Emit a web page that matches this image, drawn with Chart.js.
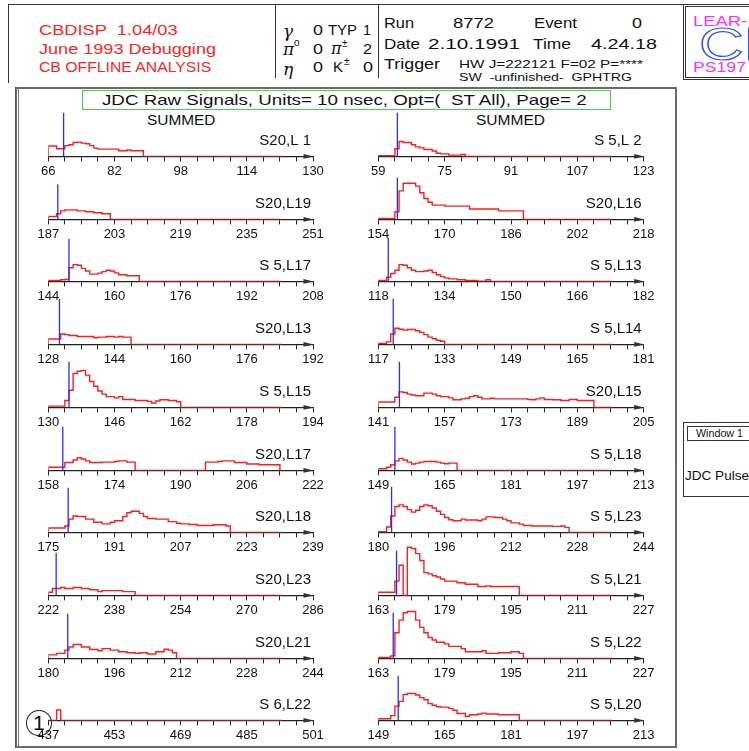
<!DOCTYPE html>
<html>
<head>
<meta charset="utf-8">
<script src="https://cdn.jsdelivr.net/npm/chart.js@4.4.0/dist/chart.umd.min.js"></script>
<style>
  body { margin: 0; background: #fff; width: 749px; height: 751px; overflow: hidden; position: relative; }
  .t { position: absolute; white-space: pre; line-height: 1; }
  .box { position: absolute; box-sizing: border-box; }
  canvas { position: absolute; }
</style>
</head>
<body>
<script>
// panel labels, left column top to bottom, then right column
const panelNames = ['S20,L 1', 'S20,L19', 'S 5,L17', 'S20,L13', 'S 5,L15', 'S20,L17', 'S20,L18', 'S20,L23', 'S20,L21', 'S 6,L22',
                    'S 5,L 2', 'S20,L16', 'S 5,L13', 'S 5,L14', 'S20,L15', 'S 5,L18', 'S 5,L23', 'S 5,L21', 'S 5,L22', 'S 5,L20'];
// first tick of each time axis (units of 10 nsec)
const axisStarts = [66, 187, 144, 128, 130, 158, 175, 222, 180, 437,
                    59, 154, 118, 117, 141, 149, 180, 163, 163, 149];
// blue trigger marker position and height, null = none
const triggerAt = [69.7, 189.3, 149, 130.7, 135, 161.5, 179.8, 223.9, 184.7, null,
                   63.6, 158.6, 120.4, 120.6, 146.1, 153, 183.2, 167.4, 166.6, 153.8];
const triggerHeight = [46, 37, 45, 48, 48, 46, 47, 45, 47, 0,
                       46, 44, 46, 48, 48, 46, 48, 47, 48, 47];

// raw pulse height per time bin, starting at the axis start
const s20L1 = [11, 11, 8, 8, 11.3, 12.3, 14.7, 15, 14, 13.3, 11.3, 8.7, 7.7, 7.7, 7.7, 7.7, 7.7, 6, 6, 6.7, 6, 6, 6];
const s20L19 = [3, 3, 6, 9, 10, 10, 10, 9, 9, 8, 8, 7, 7, 6, 6];
const s5L17 = [1, 1, 1, 1.7, 2, 14.3, 17.7, 17, 13.7, 11, 7.7, 7.7, 8.7, 10.3, 11.7, 11, 9, 7, 7, 6, 6, 6];
const s20L13 = [5.7, 5.7, 5.7, 11, 10.3, 9.3, 9.3, 8.3, 8.3, 8.3, 8.3, 7, 7.7, 7.7, 8.3, 8.3, 7.7, 8.3, 7.7, 7.7];
const s5L15 = [1.3, 1.3, 1.3, 1.3, 7.3, 18, 35.7, 38, 39, 34, 27.3, 22.3, 17.3, 14, 11.3, 11.3, 10, 11.3, 8.3, 8.3,
               8.3, 7.3, 7.3, 7.3, 6.3, 4.7, 6.7, 8, 8, 7.3, 7.3, 6];
const s20L17 = [3.3, 3.3, 3.3, 3.3, 8.3, 8.3, 11, 13.3, 12, 10, 8.3, 8.3, 8.3, 8.7, 8.7, 8.7, 9.3, 10, 10, 8.7, 8.7,
                0, 0, 0, 0, 0, 0, 0, 0, 0, 0, 0, 0, 0, 0, 0, 0, 0,
                8.7, 8.7, 8.7, 9.3, 10, 10, 10, 8.3, 8.3, 8.3, 6.7, 6.7, 6.7, 6, 6, 6, 6, 6];
const s20L18 = [4.7, 4.7, 4.7, 4.7, 6.7, 14, 17.3, 16.7, 16.7, 14, 14, 10.7, 10.7, 9, 9, 10.7, 12.3, 12.3, 16.7, 20.7,
                22.3, 22.3, 20, 16.7, 14.7, 14.7, 14, 14, 14, 11.3, 11.3, 9.7, 9, 9, 8.3, 8.3, 7.3, 7.3, 7.3, 7.3, 8, 8, 8, 6.7];
const s20L23 = [3.3, 7.3, 7.3, 8.3, 7.3, 7.3, 8.3, 8.3, 7.3, 7.3, 6, 6, 4, 5, 5, 5, 5, 5, 4, 4, 4];
const s20L21 = [3.7, 3.7, 5.3, 5.3, 8.7, 12, 14.7, 14.7, 12, 12, 9.3, 9.3, 8, 10.3, 10.3, 8.7, 8.7, 7, 7, 6, 6, 5.3,
                6, 6, 4.7, 4.7, 7, 7, 9.7, 8.7, 6];
const s6L22 = [0, 0, 11];
const s5L2 = [0.7, 0.7, 0.7, 0.7, 8, 15.7, 14.7, 14.7, 12.3, 10, 9, 7.3, 7.3, 5.7, 3.3, 2.7, 2.7, 1.3, 1.3, 1.3, 2];
const s20L16 = [1, 1, 1, 1, 8, 30, 38, 38, 38, 35, 28, 22, 18, 15, 15, 15, 14, 14, 14, 14, 14, 14,
                11, 11, 11, 11, 11, 11, 11, 9, 9, 9, 9, 9, 9];
const s5L13 = [1, 1, 4.3, 8.3, 11.7, 17.7, 17, 14.3, 11.7, 10.3, 10.3, 11, 11.7, 9.3, 7, 5, 3.7, 2.7, 2.7, 1.7, 1.7,
               1, 1, 1, 0.3, 0.3, 1.7];
const s5L14 = [1, 1, 2.7, 11, 17, 16, 15, 15.7, 15.7, 14.3, 12.7, 10.3, 7.7, 6, 4.3, 3.3];
const s20L15 = [5.7, 5.7, 5.7, 5.7, 10.7, 16.3, 15.7, 14, 13, 12.3, 12.3, 15, 15, 14, 12.3, 11.3, 11.3, 10, 8, 8,
                9, 9.7, 11.3, 12.3, 10.7, 9, 9, 9.7, 9, 9, 9, 9, 9, 9, 9, 9, 8.3, 8, 9, 10, 8.3, 8.3, 8, 8, 7.3, 7.3,
                8.3, 8.3, 7.3, 7.3, 7.3, 7.3];
const s5L18 = [1.7, 1.7, 3.3, 6, 10, 12.7, 11, 8.7, 6.7, 7.7, 8.7, 9.3, 9.3, 9.3, 8.7, 7.7, 7, 7.7, 7.7];
const s5L23 = [0.7, 0.7, 5.7, 17.3, 27.3, 29, 27.3, 24, 21.3, 23.3, 27.3, 29, 28, 25.7, 22.3, 19, 15.7, 13.3, 12.3,
               12.3, 14, 13, 13, 13, 12.3, 14, 16.3, 16.3, 15.7, 15.7, 14, 12.3, 10, 10, 8.7, 7.3, 7.3, 6.7, 6.7,
               6.7, 6.7, 6.7, 6.3, 6.3, 6.7, 5.3];
const s5L21 = [3.3, 3.3, 3.3, 3.3, 15, 31.7, 0, 50.7, 49.3, 44, 36.7, 24, 22.7, 20.7, 19.3, 17.3, 15, 15, 15, 13.3,
               13.3, 11.7, 11.7, 11.7, 9.3, 9.3, 10, 9.3, 9.3, 9.3, 9.3, 9.3, 9.3, 9.3];
const s5L22 = [1, 1, 1, 2.7, 27, 40.3, 48, 49.3, 49.3, 40.3, 32.7, 27, 22, 19.3, 17, 17, 15.3, 12.7, 12.7, 12.7,
               10.3, 7, 7, 7, 7, 8, 5.3, 5.3, 5.3, 6, 6, 6, 7, 7, 5.3];
const s5L20 = [1.7, 1.7, 1.7, 5, 15, 20, 27.3, 28.3, 28.3, 26.7, 24, 21.7, 17.7, 16, 14.3, 14, 14, 12.7, 10.7, 7.3,
               7.3, 4.3, 6, 6, 6.7, 7.7, 6.7, 6.7, 6.7, 6, 6, 6, 6, 6];

const panelCounts = [s20L1, s20L19, s5L17, s20L13, s5L15, s20L17, s20L18, s20L23, s20L21, s6L22,
                     s5L2, s20L16, s5L13, s5L14, s20L15, s5L18, s5L23, s5L21, s5L22, s5L20];

const FONT = '"Liberation Sans", Arial, sans-serif';
const SERIF = '"DejaVu Serif", "Liberation Serif", serif';
Chart.defaults.font.family = FONT;

const mctx = document.createElement('canvas').getContext('2d');

// absolutely placed text, optionally squeezed/stretched to a width
function put(s, x, yc, size, color, w, opt = {}) {
  const fam = opt.family || FONT;
  const style = opt.style || 'normal';
  const el = document.createElement('div');
  el.className = 't';
  el.textContent = s;
  el.style.font = `${style} ${size}px ${fam}`;
  el.style.lineHeight = '1';
  el.style.color = color;
  el.style.left = x + 'px';
  el.style.top = (yc - 0.49 * size) + 'px';
  if (opt.stroke) {
    el.style.color = 'transparent';
    el.style.webkitTextStroke = '1.2px ' + opt.stroke;
  }
  if (w) {
    mctx.font = `${style} ${size}px ${fam}`;
    const m = mctx.measureText(s).width;
    el.style.transformOrigin = '0 0';
    el.style.transform = `scaleX(${w / m})`;
  }
  document.body.appendChild(el);
}

function box(x, y, w, h, css) {
  const el = document.createElement('div');
  el.className = 'box';
  el.style.left = x + 'px';
  el.style.top = y + 'px';
  el.style.width = w + 'px';
  el.style.height = h + 'px';
  el.style.cssText += css;
  document.body.appendChild(el);
  return el;
}

// ---- header frame
box(8, 4, 675, 1, 'background:#333;');
box(8, 4, 1.3, 79, 'background:#333;');
box(275, 4, 1.3, 74, 'background:#333;');
box(378, 4, 1.3, 74, 'background:#333;');

const RED = '#ff2424';
put('CBDISP  1.04/03', 39, 29.5, 15.5, RED, 139);
put('June 1993 Debugging', 39, 48.5, 15.5, RED, 177);
put('CB OFFLINE ANALYSIS', 39, 66.2, 15.5, RED, 173);

// particle counts
const INK = '#111';
put('\u03b3', 283, 31, 17, INK, null, {family: SERIF, style: 'italic'});
put('0', 313, 29, 15, INK, 10);
put('TYP', 328, 29, 15, INK, 29);
put('1', 363, 29, 15, INK, 8);
put('\u03c0', 283, 49, 17, INK, null, {family: SERIF, style: 'italic'});
put('o', 294, 43, 10, INK);
put('0', 313, 48.3, 15, INK, 10);
put('\u03c0', 331, 49, 16, INK, null, {family: SERIF, style: 'italic'});
put('\u00b1', 342, 44, 10, INK);
put('2', 363, 48.3, 15, INK, 9);
put('\u03b7', 283, 69, 17, INK, null, {family: SERIF, style: 'italic'});
put('0', 313, 66.7, 15, INK, 10);
put('K', 333, 66.7, 15, INK, 10);
put('\u00b1', 344, 62, 10, INK);
put('0', 363, 66.7, 15, INK, 10);

// run info
put('Run', 384, 22, 15, INK, 30);
put('8772', 453, 22, 15, INK, 41);
put('Event', 534, 22, 15, INK, 43);
put('0', 632, 22, 15, INK, 10);
put('Date', 384, 43, 15, INK, 36);
put('2.10.1991', 428, 43, 15, INK, 92);
put('Time', 533, 43, 15, INK, 38);
put('4.24.18', 591, 43, 15, INK, 66);
put('Trigger', 384, 63.3, 15, INK, 56);
put('HW J=222121 F=02 P=****', 459, 64.5, 11, INK, 184);
put('SW  -unfinished-  GPHTRG', 459, 77.5, 11, INK, 173);

// logo
box(683, 4, 80, 75.5, 'border:3px double #333;');
put('LEAR-', 693, 20.5, 15, '#ff30ff', 54);
put('CB', 699, 43.5, 46, '#3050ff', 86, {stroke: '#3050ff'});
put('PS197', 693, 66, 15, '#ff30ff', 53);

// window widget
box(683, 421.7, 80, 75, 'border:1.3px solid #333;');
box(686.7, 426, 80, 15, 'border:1.2px solid #333;');
put('Window 1', 696, 433.5, 10.5, INK, 47);
put('JDC Pulse', 685, 475, 13, INK, 64);

// main frame, title, column heads
box(15, 87, 662, 661, 'border:2px solid #6a6a6a;');
box(14.5, 87, 4, 661, 'border-left:1.5px solid #555;border-right:1.5px solid #777;');
box(81.5, 89.5, 529, 20, 'border:1.6px solid #3ddc3d;');
put('JDC Raw Signals, Units= 10 nsec, Opt=(  ST All), Page= 2', 102, 99.7, 15, INK, 486);
put('SUMMED', 146.5, 119.7, 15.3, INK, 68.5);
put('SUMMED', 476, 119.7, 15.3, INK, 69);

// page number circle
box(25.5, 709.5, 26, 26.5, 'border:1.2px solid #222;border-radius:50%;');
put('1', 33, 722, 21, INK, null);

// ---- charts
const arrowAndLabel = {
  id: 'arrowAndLabel',
  afterDraw(chart, args, opts) {
    const {ctx, chartArea} = chart;
    const xs = chart.scales.x;
    const y = chartArea.bottom;
    const tip = xs.getPixelForValue(xs.max) + 0.5;
    ctx.save();
    ctx.fillStyle = '#333';
    ctx.beginPath();
    ctx.moveTo(tip, y);
    ctx.lineTo(tip - 10, y - 2.3);
    ctx.lineTo(tip - 10, y + 2.3);
    ctx.closePath();
    ctx.fill();
    ctx.font = '15px ' + FONT;
    ctx.fillStyle = INK;
    ctx.textAlign = 'right';
    ctx.textBaseline = 'middle';
    ctx.fillText(opts.name, chartArea.right - 2, y - 16);
    ctx.restore();
  }
};

function panel(idx) {
  const col = idx < 10 ? 0 : 1;
  const row = idx % 10;
  const base = 159 + row * 62.7;
  const left = col ? 348 : 18;
  const cv = document.createElement('canvas');
  cv.width = 310;
  cv.height = 79;
  cv.style.left = left + 'px';
  cv.style.top = (base - 56) + 'px';
  document.body.appendChild(cv);

  const start = axisStarts[idx];
  const counts = panelCounts[idx];
  const pts = [{x: start, y: 0}];
  counts.forEach((c, i) => pts.push({x: start + i, y: c}));
  pts.push({x: start + counts.length, y: 0});
  pts.push({x: start + 56.4, y: 0});

  const datasets = [];
  if (triggerAt[idx] !== null) {
    datasets.push({data: [{x: triggerAt[idx], y: 0}, {x: triggerAt[idx], y: triggerHeight[idx]}],
                   borderColor: '#2c2cff', borderWidth: 1.3, pointRadius: 0});
  }
  datasets.push({data: pts, stepped: true, borderColor: '#ff1c1c', borderWidth: 1.4, pointRadius: 0});

  new Chart(cv, {
    type: 'line',
    data: {datasets},
    options: {
      responsive: false,
      animation: false,
      events: [],
      layout: {padding: {left: 30.3, right: col ? 14.3 : 15, top: 4, bottom: 0}},
      plugins: {
        legend: {display: false},
        tooltip: {enabled: false},
        arrowAndLabel: {name: panelNames[idx]}
      },
      scales: {
        x: {
          type: 'linear', min: start, max: start + 64,
          grid: {drawOnChartArea: false, drawTicks: true, tickLength: 5, color: '#222', lineWidth: 1},
          border: {display: true, color: '#222', width: 1.2},
          ticks: {
            stepSize: 4, autoSkip: false, maxRotation: 0, padding: 2.5, color: INK,
            font: {size: 13},
            callback: v => ((v - start) % 16 === 0 ? String(v) : '')
          }
        },
        y: {display: false, min: 0, max: 52}
      }
    },
    plugins: [arrowAndLabel]
  });
}

for (let i = 0; i < 20; i++) panel(i);
</script>
</body>
</html>
